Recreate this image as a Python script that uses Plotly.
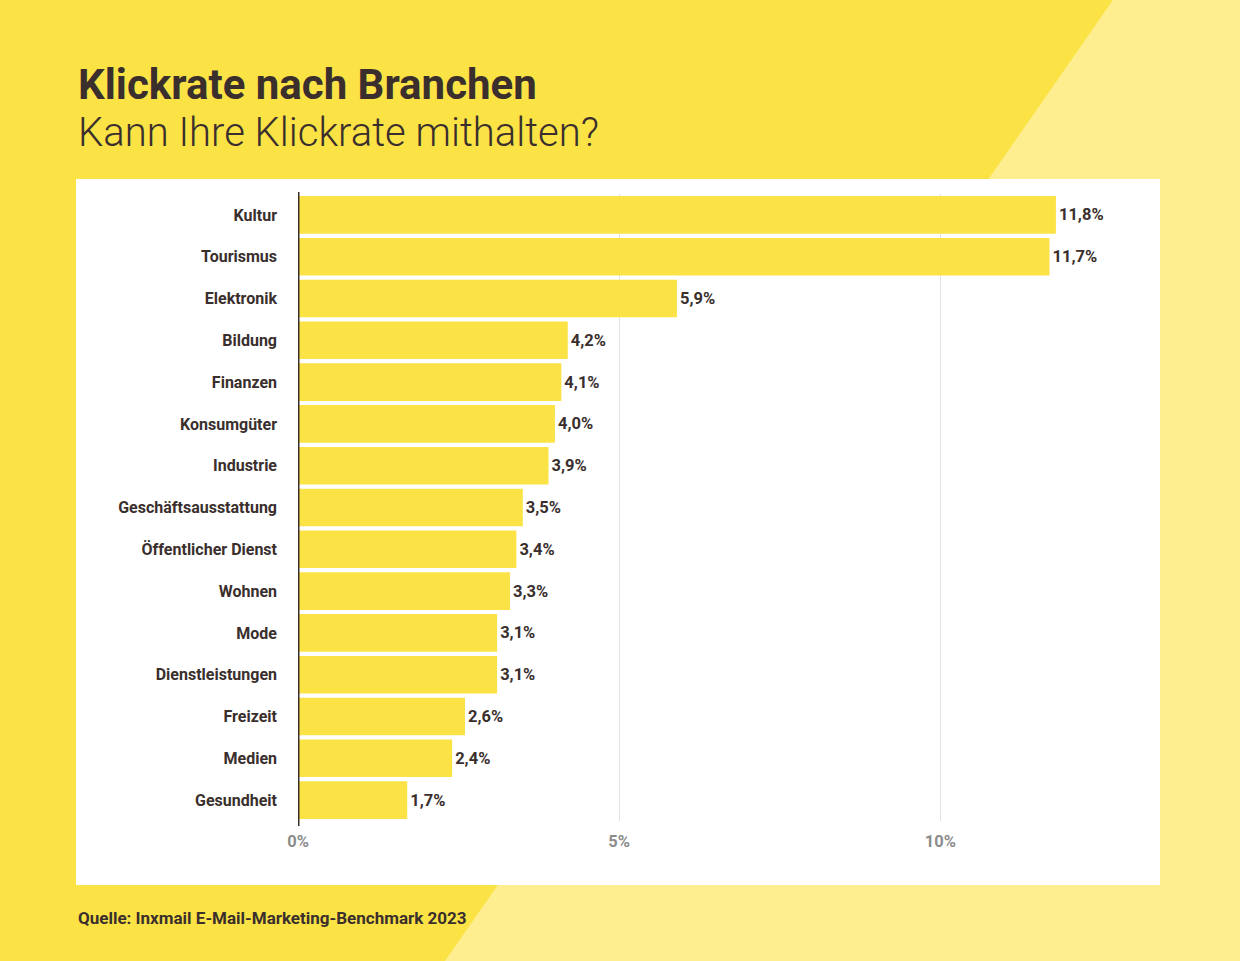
import plotly.graph_objects as go

categories = ["Kultur", "Tourismus", "Elektronik", "Bildung", "Finanzen", "Konsumgüter",
              "Industrie", "Geschäftsausstattung", "Öffentlicher Dienst", "Wohnen", "Mode",
              "Dienstleistungen", "Freizeit", "Medien", "Gesundheit"]
values = [11.8, 11.7, 5.9, 4.2, 4.1, 4.0, 3.9, 3.5, 3.4, 3.3, 3.1, 3.1, 2.6, 2.4, 1.7]
tick_vals = [0, 5, 10]
tick_text = ["0%", "5%", "10%"]

W, H = 1240, 961
ML, MR, MT, MB = 298, 107, 194, 140
PW, PH = W - ML - MR, H - MT - MB

def px(x):
    return (x - ML) / PW

def py(y):
    return (H - MB - y) / PH

DARK = "#3a2f2d"
YEL = "#fbe346"
LIGHT = "#feee8f"
FONT = "Roboto"

fig = go.Figure(go.Bar(
    x=values, y=categories, orientation="h",
    marker=dict(color=YEL, line=dict(width=0)),
    width=0.9,
    texttemplate="%{x:.1f}%", textposition="outside",
    textfont=dict(family=FONT, size=16.5, color=DARK, weight="bold"),
    cliponaxis=False,
))

shapes = [
    dict(type="path", xref="paper", yref="paper", layer="below",
         path=f"M {px(1113)} {py(0)} L {px(W)} {py(0)} L {px(W)} {py(H)} L {px(445)} {py(H)} Z",
         fillcolor=LIGHT, line=dict(width=0)),
    dict(type="rect", xref="paper", yref="paper", layer="below",
         x0=px(76), x1=px(1160), y0=py(179), y1=py(885),
         fillcolor="white", line=dict(width=0)),
    dict(type="line", xref="x", yref="paper", layer="above",
         x0=0, x1=0, y0=py(192), y1=py(826),
         line=dict(color=DARK, width=3)),
]

title_text = ("<span style='font-size:42px;font-weight:bold'>Klickrate nach Branchen</span><br>"
              "<span style='font-size:40px;font-weight:300'>Kann Ihre Klickrate mithalten?</span>")

annotations = [
    dict(text=title_text, x=px(76), y=py(108), xref="paper", yref="paper",
         xanchor="left", yanchor="middle", align="left", showarrow=False,
         font=dict(family=FONT, size=36, color=DARK)),
    dict(text="<b>Quelle: Inxmail E-Mail-Marketing-Benchmark 2023</b>", x=px(76), y=py(918),
         xref="paper", yref="paper", xanchor="left", yanchor="middle", showarrow=False,
         font=dict(family=FONT, size=17, color=DARK)),
]

fig.update_layout(
    width=W, height=H,
    margin=dict(l=ML, r=MR, t=MT, b=MB),
    paper_bgcolor=YEL, plot_bgcolor="rgba(0,0,0,0)",
    separators=",.",
    showlegend=False,
    shapes=shapes, annotations=annotations,
    bargap=0.1,
    xaxis=dict(range=[0, 13], tickvals=tick_vals, ticktext=tick_text,
               showgrid=True, gridcolor="#e2e2e2", gridwidth=1,
               zeroline=False, showline=False, ticks="", ticklabelstandoff=8,
               tickfont=dict(family=FONT, size=16.5, color="#8c8c8c", weight="bold"),
               fixedrange=True),
    yaxis=dict(autorange="reversed", showgrid=False, showline=False, ticks="",
               ticklabelstandoff=20,
               tickfont=dict(family=FONT, size=16, color=DARK, weight="bold"),
               fixedrange=True),
)

fig.write_html("out.html", config={"displayModeBar": False},
               post_script="document.body.style.margin='0';document.body.style.overflow='hidden';")
